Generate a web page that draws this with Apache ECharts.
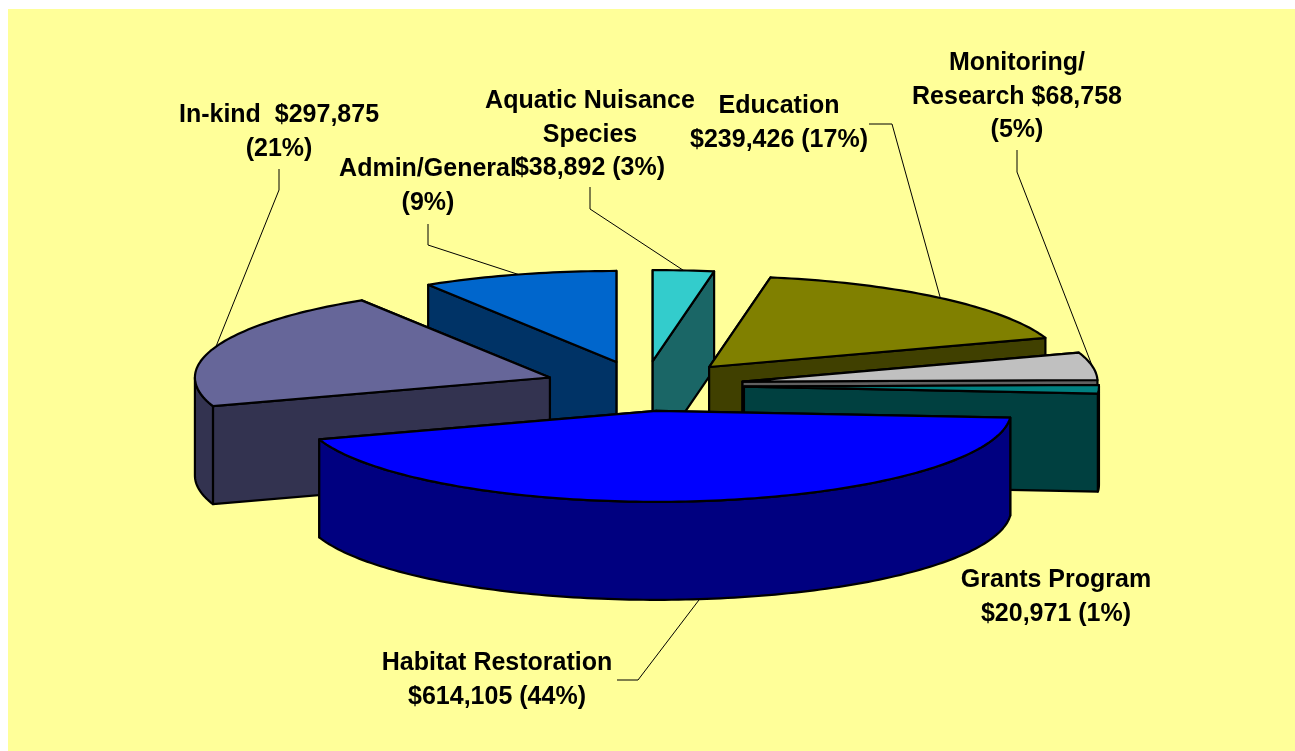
<!DOCTYPE html>
<html>
<head>
<meta charset="utf-8">
<style>
html, body { margin: 0; padding: 0; background: #fff; }
#main { position: absolute; left: 8px; top: 9px; width: 1287px; height: 742px; }
</style>
<script src="https://cdn.jsdelivr.net/npm/echarts@6/dist/echarts.min.js"></script>
</head>
<body>
<div id="main"></div>
<script>
// values in pie order, clockwise from 12 o'clock
const categories = ['Aquatic Nuisance Species', 'Education', 'Monitoring/Research', 'Grants Program', 'Habitat Restoration', 'In-kind', 'Admin/General'];
const amounts = [38892, 239426, 68758, 20971, 614105, 297875, 125000];
const labelLines = [
    ['Aquatic Nuisance', 'Species', '$38,892 (3%)'],
    ['Education', '$239,426 (17%)'],
    ['Monitoring/', 'Research $68,758', '(5%)'],
    ['Grants Program', '$20,971 (1%)'],
    ['Habitat Restoration', '$614,105 (44%)'],
    ['In-kind  $297,875', '(21%)'],
    ['Admin/General', '(9%)']
];
const topColors = ['#33cccc', '#808000', '#c0c0c0', '#008080', '#0000ff', '#666699', '#0066cc'];
const sideColors = ['#1a6666', '#404000', '#606060', '#004040', '#000080', '#333350', '#003366'];

// back to front
const drawOrder = [0, 6, 1, 5, 2, 3, 4];

const PIE = { cx: 636, cy: 377, rx: 355, ry: 91, depth: 98, explodeX: 100, explodeY: 25 };

// label centre x, first line y (chart coords = page - 8,9)
const labelPos = [[582, 92], [771, 97], [1009, 54], [1048, 571], [489, 654], [271, 106], [420, 160]];
const LINE_H = 33.7;

// leader: start, elbow, then the point on the slice rim (computed)
const leaderElbows = [
    [[582, 178], [582, 200]],
    [[861, 115], [884, 115]],
    [[1009, 141], [1009, 163]],
    null,
    [[609, 671], [630, 671]],
    [[271, 160], [271, 181]],
    [[420, 215], [420, 236]]
];

const total = amounts.reduce((a, b) => a + b, 0);
let acc = 0;
const slices = amounts.map(function (v) {
    const start = acc / total * Math.PI * 2;
    acc += v;
    const end = acc / total * Math.PI * 2;
    const mid = (start + end) / 2;
    return {
        start: start,
        end: end,
        mid: mid,
        x: PIE.cx + PIE.explodeX * Math.sin(mid),
        y: PIE.cy - PIE.explodeY * Math.cos(mid)
    };
});

function rimPoint(s, a, dy) {
    return [s.x + PIE.rx * Math.sin(a), s.y - PIE.ry * Math.cos(a) + (dy || 0)];
}

function arcPoints(s, from, to, dy) {
    const n = Math.max(2, Math.ceil((to - from) / 0.02));
    const pts = [];
    for (let i = 0; i <= n; i++) {
        pts.push(rimPoint(s, from + (to - from) * i / n, dy));
    }
    return pts;
}

function poly(points, fill) {
    return {
        type: 'polygon',
        shape: { points: points },
        style: { fill: fill, stroke: '#000', lineWidth: 2.2, lineJoin: 'round' }
    };
}

function renderSlice(params, api) {
    const i = api.value(0);
    const s = slices[i];
    const apex = [s.x, s.y];
    const apexLow = [s.x, s.y + PIE.depth];
    const side = sideColors[i];
    const children = [];

    // the two cut faces, the one further back goes first
    const rims = [rimPoint(s, s.start), rimPoint(s, s.end)];
    rims.sort(function (a, b) { return a[1] - b[1]; });
    rims.forEach(function (p) {
        children.push(poly([apex, p, [p[0], p[1] + PIE.depth], apexLow], side));
    });

    // outer wall, only the part facing the viewer
    const from = Math.max(s.start, Math.PI / 2);
    const to = Math.min(s.end, Math.PI * 1.5);
    if (to > from) {
        const upper = arcPoints(s, from, to);
        const lower = arcPoints(s, from, to, PIE.depth).reverse();
        children.push(poly(upper.concat(lower), side));
    }

    // top face
    children.push(poly([apex].concat(arcPoints(s, s.start, s.end)), topColors[i]));
    return { type: 'group', children: children };
}

const graphics = [];
labelLines.forEach(function (lines, i) {
    const elbows = leaderElbows[i];
    if (elbows) {
        const dy = i === 4 ? PIE.depth : 0;
        graphics.push({
            type: 'polyline',
            z: 10,
            shape: { points: elbows.concat([rimPoint(slices[i], slices[i].mid, dy)]) },
            style: { stroke: '#000', lineWidth: 1, fill: null }
        });
    }
    lines.forEach(function (t, k) {
        graphics.push({
            type: 'text',
            z: 11,
            x: labelPos[i][0],
            y: labelPos[i][1] + k * LINE_H,
            style: {
                text: t,
                fill: '#000',
                font: 'bold 25px "Liberation Sans", Arial, sans-serif',
                align: 'center',
                verticalAlign: 'middle'
            }
        });
    });
});

let myChart = echarts.init(document.getElementById('main'));
myChart.setOption({
    animation: false,
    backgroundColor: '#ffff99',
    tooltip: { show: false },
    series: [{
        type: 'custom',
        coordinateSystem: 'none',
        silent: true,
        clip: false,
        renderItem: renderSlice,
        data: drawOrder.map(function (i) { return { name: categories[i], value: [i, amounts[i]] }; })
    }],
    graphic: graphics
});
</script>
</body>
</html>
